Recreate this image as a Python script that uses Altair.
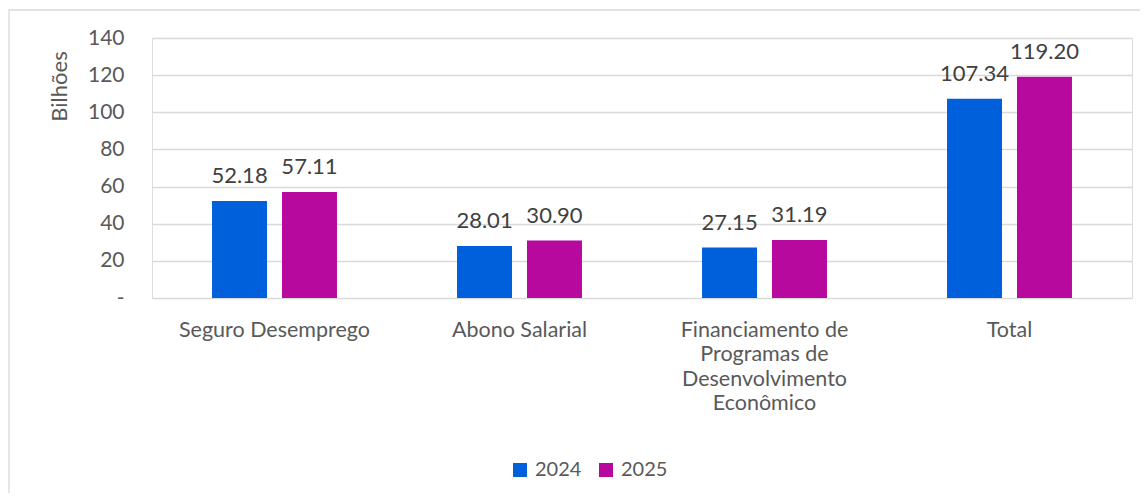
import altair as alt
import pandas as pd

categories = ["Seguro Desemprego", "Abono Salarial",
              "Financiamento de|Programas de|Desenvolvimento|Econômico", "Total"]
years = ["2024", "2025"]
values_2024 = [52.18, 28.01, 27.15, 107.34]
values_2025 = [57.11, 30.90, 31.19, 119.20]
y_ticks = [0, 20, 40, 60, 80, 100, 120, 140]
colors = ["#0060DC", "#B8099E"]
title_text = "Figura 22 – Dotações Atualizadas de Despesas no FAT por ação governamental."

rows = []
for c, a, b in zip(categories, values_2024, values_2025):
    rows.append({"cat": c, "year": years[0], "value": a})
    rows.append({"cat": c, "year": years[1], "value": b})
df = pd.DataFrame(rows)

FONT = "Lato"
GRAY = "#595959"
GRID = "#D9D9D9"

x = alt.X("cat:N", sort=categories, title=None,
          scale=alt.Scale(paddingInner=0.49, paddingOuter=0.245),
          axis=alt.Axis(labelExpr="split(datum.label, '|')", labelAngle=0,
                        labelFontSize=21.5, labelColor=GRAY, labelFont=FONT,
                        labelPadding=21, labelLineHeight=24.5, labelLimit=400,
                        ticks=False, domain=False, grid=False))
xo = alt.XOffset("year:N", sort=years, scale=alt.Scale(paddingInner=0.214, paddingOuter=0))
y = alt.Y("value:Q", scale=alt.Scale(domain=[0, 140], nice=False), title="Bilhões",
          axis=alt.Axis(values=y_ticks, labelExpr="datum.value == 0 ? '-' : datum.label",
                        labelFontSize=21, labelColor=GRAY, labelFont=FONT, labelPadding=28,
                        ticks=False, domain=False, grid=True, gridColor=GRID, gridWidth=1.3,
                        titleFont=FONT, titleFontSize=22, titleColor=GRAY, titleFontWeight="normal",
                        titleAngle=270, titleX=-93, titleY=48, titleAlign="center",
                        titleBaseline="middle"))

base = alt.Chart(df)

bars = base.mark_bar().encode(
    x=x, xOffset=xo, y=y,
    color=alt.Color("year:N", sort=years, scale=alt.Scale(domain=years, range=colors),
                    legend=alt.Legend(orient="none", legendX=358, legendY=422,
                                      direction="horizontal", title=None,
                                      symbolType="square", symbolSize=196,
                                      symbolStrokeWidth=0, labelFontSize=20,
                                      labelColor=GRAY, labelFont=FONT, labelOffset=5,
                                      columnPadding=14, padding=0)),
)

labels = base.mark_text(baseline="alphabetic", dy=-18, fontSize=22, font=FONT,
                        color="#404040").encode(
    x=x, xOffset=xo, y=y,
    text=alt.Text("value:Q", format=".2f"),
)

frame = alt.Chart(pd.DataFrame({"a": [0]})).mark_rect(
    filled=False, stroke=GRID, strokeWidth=1.3
).encode(x=alt.value(-143), x2=alt.value(1010), y=alt.value(-28), y2=alt.value(480))

chart = alt.layer(frame, bars, labels).properties(
    width=980, height=260,
    autosize=alt.AutoSizeParams(type="none"),
    padding={"left": 144, "top": 30, "right": 8, "bottom": 195},
    title=alt.TitleParams(text=title_text, anchor="start", frame="group", dx=-150,
                          offset=0, fontSize=21, fontWeight="bold", color="black",
                          font=FONT, baseline="bottom"),
).configure_view(stroke=None).configure(background="white")

chart.save("out.html", embed_options={"renderer": "svg", "actions": False})
